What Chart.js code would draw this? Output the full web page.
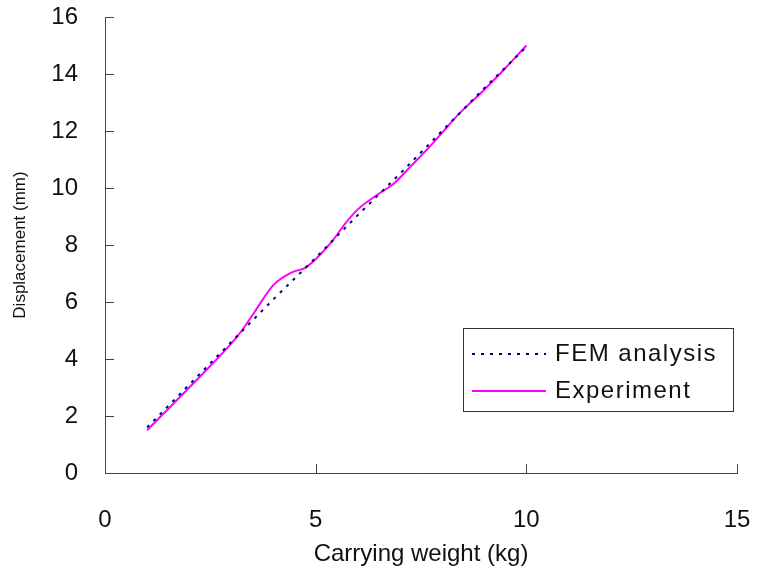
<!DOCTYPE html>
<html>
<head>
<meta charset="utf-8">
<script src="https://cdn.jsdelivr.net/npm/chart.js@4.4.1/dist/chart.umd.min.js"></script>
<style>
  html, body { margin: 0; padding: 0; background: #fff; }
  #wrap { width: 758px; height: 577px; }
</style>
</head>
<body>
<div id="wrap"><canvas id="myChart" width="758" height="577"></canvas></div>
<script>
const femWeight = [1, 2, 3, 4, 5, 6, 7, 8, 9, 10];
const femDisp = [1.6, 3.1, 4.6, 6.1, 7.55, 9.05, 10.5, 12.0, 13.5, 14.95];

const expWeight = [1, 2, 3, 3.25, 3.55, 4, 4.45, 4.75, 5, 5.4, 5.7, 6, 6.5, 6.85, 7.25, 7.8, 8.4, 9, 9.5, 10];
const expDisp = [1.5, 3.0, 4.55, 5.0, 5.65, 6.6, 7.05, 7.2, 7.5, 8.15, 8.75, 9.25, 9.8, 10.15, 10.75, 11.6, 12.6, 13.45, 14.2, 15.0];

const xTicks = [0, 5, 10, 15];
const yTicks = [0, 2, 4, 6, 8, 10, 12, 14, 16];

const labels = ['FEM analysis', 'Experiment'];

const fontFamily = '"Liberation Sans", Arial, sans-serif';

// ticks drawn on the inside of the axes
const innerTicks = {
  id: 'innerTicks',
  afterDraw(chart) {
    const c = chart.ctx;
    const xs = chart.scales.x, ys = chart.scales.y;
    const area = chart.chartArea;
    c.save();
    c.strokeStyle = '#444';
    c.lineWidth = 1;
    c.beginPath();
    xTicks.forEach(v => {
      const px = Math.round(xs.getPixelForValue(v)) + 0.5;
      c.moveTo(px, area.bottom);
      c.lineTo(px, area.bottom - 9);
    });
    yTicks.forEach(v => {
      const py = Math.round(ys.getPixelForValue(v)) + 0.5;
      c.moveTo(area.left, py);
      c.lineTo(area.left + 9, py);
    });
    c.stroke();
    c.restore();
  }
};

// boxed legend inside the plot
const boxLegend = {
  id: 'boxLegend',
  afterDraw(chart) {
    const c = chart.ctx;
    const left = 463, top = 328, w = 270, h = 83;
    c.save();
    c.fillStyle = '#fff';
    c.fillRect(left, top, w, h);
    c.strokeStyle = '#333';
    c.lineWidth = 1;
    c.strokeRect(left + 0.5, top + 0.5, w, h);
    chart.data.datasets.forEach((ds, i) => {
      const y = top + 26 + i * 37;
      c.beginPath();
      c.strokeStyle = ds.borderColor;
      c.lineWidth = 2;
      c.setLineDash(ds.borderDash || []);
      c.moveTo(left + 9, y);
      c.lineTo(left + 83, y);
      c.stroke();
      c.setLineDash([]);
      c.fillStyle = '#111';
      c.font = '24px ' + fontFamily;
      c.letterSpacing = '1.5px';
      c.textBaseline = 'middle';
      c.fillText(ds.label, left + 92, y);
      c.letterSpacing = '0px';
    });
    c.restore();
  }
};

const ctx = document.getElementById('myChart');
new Chart(ctx, {
  type: 'line',
  data: {
    datasets: [{
      label: labels[0],
      data: femWeight.map((x, i) => ({ x: x, y: femDisp[i] })),
      borderColor: '#000080',
      borderWidth: 2,
      borderDash: [3, 6],
      pointRadius: 0,
      tension: 0
    }, {
      label: labels[1],
      data: expWeight.map((x, i) => ({ x: x, y: expDisp[i] })),
      borderColor: '#ff00ff',
      borderWidth: 2,
      pointRadius: 0,
      cubicInterpolationMode: 'monotone'
    }]
  },
  options: {
    responsive: false,
    animation: false,
    layout: { padding: { top: 17, right: 21, left: 0, bottom: 0 } },
    plugins: {
      legend: { display: false },
      tooltip: { enabled: false }
    },
    scales: {
      x: {
        type: 'linear',
        min: 0, max: 15,
        afterBuildTicks: s => { s.ticks = xTicks.map(v => ({ value: v })); },
        afterFit: s => { s.height = 104; s.paddingLeft = 0; s.paddingRight = 0; },
        grid: { display: true, drawOnChartArea: false, drawTicks: false },
        border: { color: '#444', width: 1 },
        ticks: { padding: 33, color: '#111', font: { family: fontFamily, size: 24 } },
        title: {
          display: true, text: 'Carrying weight (kg)', color: '#111',
          font: { family: fontFamily, size: 24 }, padding: { top: 0, bottom: 8 }
        }
      },
      y: {
        type: 'linear',
        min: 0, max: 16,
        afterBuildTicks: s => { s.ticks = yTicks.map(v => ({ value: v })); },
        afterFit: s => { s.width = 105; s.paddingTop = 0; s.paddingBottom = 0; },
        grid: { display: true, drawOnChartArea: false, drawTicks: false },
        border: { color: '#444', width: 1 },
        ticks: { padding: 27, color: '#111', font: { family: fontFamily, size: 24 } },
        title: {
          display: true, text: 'Displacement (mm)', color: '#111',
          font: { family: fontFamily, size: 17 }, padding: { top: 10, bottom: 0 }
        }
      }
    }
  },
  plugins: [innerTicks, boxLegend]
});
</script>
</body>
</html>
